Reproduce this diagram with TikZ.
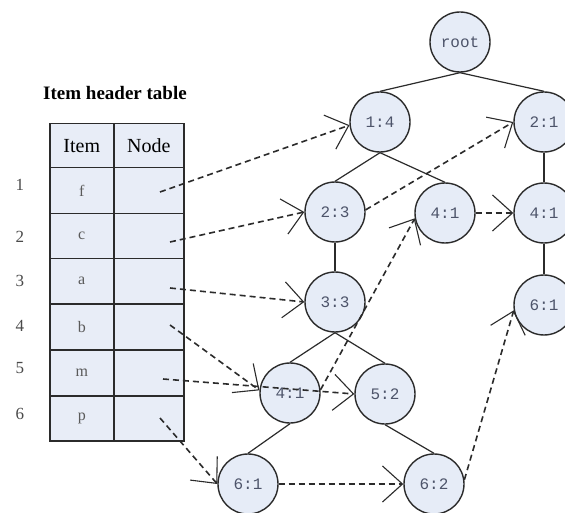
\documentclass[tikz,border=0pt]{standalone}
\usepackage{fontspec}
\setmainfont{Liberation Serif}
\newfontfamily\monofnt{Liberation Mono}
\usetikzlibrary{arrows.meta}
\definecolor{nodefill}{HTML}{E6ECF7}
\definecolor{tabfill}{HTML}{E8EDF7}
\definecolor{edgec}{HTML}{2B2B2B}
\definecolor{labelc}{HTML}{4D546A}
\definecolor{itemc}{HTML}{5A5A5A}
\definecolor{numc}{HTML}{4A4A4A}
\begin{document}
\begin{tikzpicture}[x=1pt,y=-1pt,
  tnode/.style={circle,draw=edgec,line width=1.4pt,fill=nodefill,minimum size=60pt,inner sep=0pt,
    font=\monofnt\fontsize{16}{16}\selectfont,text=labelc},
  tedge/.style={draw=edgec,line width=1.2pt},
  link/.style={draw=edgec,line width=1.6pt,dash pattern=on 6pt off 4pt,
    -{Straight Barb[length=20pt,width=36pt,line width=1.1pt]}},
  cell/.style={draw=edgec,line width=1.5pt,fill=tabfill,inner sep=0pt,anchor=north west},
  headc/.style={cell,font=\fontsize{20}{20}\selectfont,text=black},
  itemcell/.style={cell,minimum width=64pt,font=\fontsize{16}{16}\selectfont,text=itemc},
  nodecell/.style={cell,minimum width=70pt},
  rownum/.style={font=\fontsize{17}{17}\selectfont,text=numc,inner sep=0pt}]
\clip (0,0) rectangle (565,513);
\fill[white] (0,0) rectangle (565,513);

% title
\node[font=\bfseries\fontsize{19}{19}\selectfont,inner sep=0pt] (title) at (115,93) {Item header table};

% table
\node[headc,minimum width=64pt,minimum height=44pt] (hitem) at (49,123) {Item};
\node[headc,minimum width=70pt,minimum height=44pt] (hnode) at (113,123) {Node};
\node[itemcell,minimum height=46pt] (i1) at (49,167) {f};
\node[nodecell,minimum height=46pt] (c1) at (113,167) {};
\node[itemcell,minimum height=45pt] (i2) at (49,213) {c};
\node[nodecell,minimum height=45pt] (c2) at (113,213) {};
\node[itemcell,minimum height=45pt] (i3) at (49,258) {a};
\node[nodecell,minimum height=45pt] (c3) at (113,258) {};
\node[itemcell,minimum height=46pt] (i4) at (49,303) {b};
\node[nodecell,minimum height=46pt] (c4) at (113,303) {};
\node[itemcell,minimum height=46pt] (i5) at (49,349) {m};
\node[nodecell,minimum height=46pt] (c5) at (113,349) {};
\node[itemcell,minimum height=45pt] (i6) at (49,395) {p};
\node[nodecell,minimum height=45pt] (c6) at (113,395) {};

% row numbers
\node[rownum] (r1) at (20,185) {1};
\node[rownum] (r2) at (20,237) {2};
\node[rownum] (r3) at (20,281) {3};
\node[rownum] (r4) at (20,326) {4};
\node[rownum] (r5) at (20,368) {5};
\node[rownum] (r6) at (20,414) {6};

% tree nodes
\node[tnode] (root) at (460,42) {root};
\node[tnode] (n14) at (380,122) {1:4};
\node[tnode] (n21) at (544,122) {2:1};
\node[tnode] (n23) at (335,212) {2:3};
\node[tnode] (n41a) at (445,213) {4:1};
\node[tnode] (n41b) at (544,213) {4:1};
\node[tnode] (n33) at (335,302) {3:3};
\node[tnode] (n61a) at (544,305) {6:1};
\node[tnode] (n41c) at (290,393) {4:1};
\node[tnode] (n52) at (385,394) {5:2};
\node[tnode] (n61b) at (248,484) {6:1};
\node[tnode] (n62) at (434,484) {6:2};

% tree edges
\draw[tedge] (root.south) -- (n14.north);
\draw[tedge] (root.south) -- (n21.north);
\draw[tedge] (n14.south) -- (n23.north);
\draw[tedge] (n14.south) -- (n41a.north);
\draw[tedge] (n23.south) -- (n33.north);
\draw[tedge] (n33.south) -- (n41c.north);
\draw[tedge] (n33.south) -- (n52.north);
\draw[tedge] (n41c.south) -- (n61b.north);
\draw[tedge] (n52.south) -- (n62.north);
\draw[tedge] (n21.south) -- (n41b.north);
\draw[tedge] (n41b.south) -- (n61a.north);

% header table links
\coordinate (s1) at (160,192);
\coordinate (s2) at (170,242);
\coordinate (s3) at (170,288);
\coordinate (s4) at (170,325);
\coordinate (s5) at (163,379);
\coordinate (s6) at (160,418);
\draw[link] (s1) -- (n14.186);
\draw[link] (s2) -- (n23.west);
\draw[link] (s3) -- (n33.west);
\draw[link] (s4) -- (n41c.175);
\draw[link] (s5) -- (n52.west);
\draw[link] (s6) -- (n61b.west);

% node links
\draw[link] (n23.4) -- (n21.west);
\draw[link] (n41c.6) -- (n41a.190);
\draw[link] (n41a.east) -- (n41b.west);
\draw[link] (n61b.east) -- (n62.west);
\draw[link] (n62.8) -- (n61a.190);
\end{tikzpicture}
\end{document}
